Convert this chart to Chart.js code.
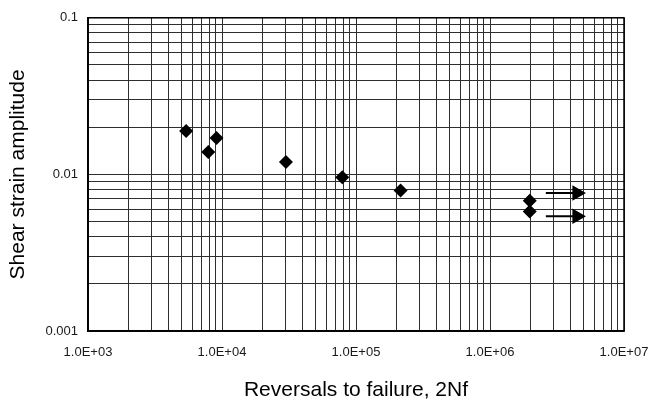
<!DOCTYPE html>
<html>
<head>
<meta charset="utf-8">
<script src="https://cdn.jsdelivr.net/npm/chart.js@4.4.1/dist/chart.umd.min.js"></script>
<style>
  html, body { margin: 0; padding: 0; background: #fff; }
  #wrap { width: 650px; height: 403px; position: relative; }
</style>
</head>
<body>
<div id="wrap"><canvas id="fatigue"></canvas></div>
<script>
// ── data ──
const cycles = [5400, 7900, 9100, 30000, 79000, 215000, 1980000, 1980000];
const strain = [0.0189, 0.0139, 0.0171, 0.0120, 0.0096, 0.0079, 0.0068, 0.0058];

// run-outs (arrows pointing right)
const runoutX     = [2610000, 4450000];
const runoutUpper = [0.0076, 0.0076];
const runoutLower = [0.0054, 0.0054];

const xDecades = [1e3, 1e4, 1e5, 1e6, 1e7];
const yDecades = [0.001, 0.01, 0.1];
const xTickText = ["1.0E+03", "1.0E+04", "1.0E+05", "1.0E+06", "1.0E+07"];
const yTickText = ["0.001", "0.01", "0.1"];

// every 1..9 step inside each decade, so the grid looks like log paper
function logSteps(decades) {
  const out = [];
  for (let i = 0; i < decades.length - 1; i++) {
    for (let m = 1; m <= 9; m++) out.push({ value: +(decades[i] * m).toPrecision(3) });
  }
  out.push({ value: decades[decades.length - 1] });
  return out;
}
function labelFor(decades, texts, v) {
  const i = decades.findIndex(d => Math.abs(d - v) / d < 1e-6);
  return i >= 0 ? texts[i] : "";
}

const GRID = "#2e2e2e";
const FONT = "'Liberation Sans', Arial, sans-serif";

new Chart(document.getElementById("fatigue"), {
  type: "scatter",
  data: {
    datasets: [
      {
        data: cycles.map((c, i) => ({ x: c, y: strain[i] })),
        pointStyle: "rectRot", pointRadius: 7, pointHoverRadius: 7,
        backgroundColor: "#000", borderColor: "#000", borderWidth: 0
      },
      {
        type: "line",
        data: runoutX.map((x, i) => ({ x, y: runoutUpper[i] })),
        borderColor: "#000", borderWidth: 2,
        pointStyle: "triangle", pointRotation: 90, pointRadius: [0, 7],
        pointBackgroundColor: "#000", pointBorderColor: "#000"
      },
      {
        type: "line",
        data: runoutX.map((x, i) => ({ x, y: runoutLower[i] })),
        borderColor: "#000", borderWidth: 2,
        pointStyle: "triangle", pointRotation: 90, pointRadius: [0, 7],
        pointBackgroundColor: "#000", pointBorderColor: "#000"
      }
    ]
  },
  options: {
    responsive: true, maintainAspectRatio: false, animation: false,
    layout: { padding: { top: 17, right: 0, bottom: 0, left: 0 } },
    plugins: { legend: { display: false }, tooltip: { enabled: false } },
    scales: {
      x: {
        type: "logarithmic", min: 1e3, max: 1e7,
        afterBuildTicks: s => { s.ticks = logSteps(xDecades); },
        afterFit: s => { s.height = 72; s.paddingLeft = 0; s.paddingRight = 26; },
        ticks: {
          autoSkip: false, maxRotation: 0, padding: 14, color: "#1a1a1a",
          font: { family: FONT, size: 13 },
          callback: v => labelFor(xDecades, xTickText, v)
        },
        grid: { color: GRID, lineWidth: 1, drawTicks: false },
        border: { display: true, color: "#000", width: 1.5 },
        title: {
          display: true, text: "Reversals to failure, 2Nf", color: "#000",
          font: { family: FONT, size: 21 }, padding: { top: 0, bottom: 0 }
        }
      },
      y: {
        type: "logarithmic", min: 0.001, max: 0.1,
        afterBuildTicks: s => { s.ticks = logSteps(yDecades); },
        afterFit: s => { s.width = 88; },
        ticks: {
          autoSkip: false, padding: 10, color: "#1a1a1a",
          font: { family: FONT, size: 13 },
          callback: v => labelFor(yDecades, yTickText, v)
        },
        grid: { color: GRID, lineWidth: 1, drawTicks: false },
        border: { display: true, color: "#000", width: 1.5 },
        title: {
          display: true, text: "Shear strain amplitude", color: "#000",
          font: { family: FONT, size: 21 }, padding: { top: 6, bottom: 0 }
        }
      }
    }
  },
  plugins: [{
    // close the frame on the top and right like the original graph paper
    id: "frame",
    afterDraw(chart) {
      const { ctx, chartArea: a } = chart;
      ctx.save();
      ctx.strokeStyle = "#000";
      ctx.lineWidth = 1.5;
      ctx.strokeRect(a.left, a.top, a.right - a.left, a.bottom - a.top);
      ctx.restore();
    }
  }]
});
</script>
</body>
</html>
